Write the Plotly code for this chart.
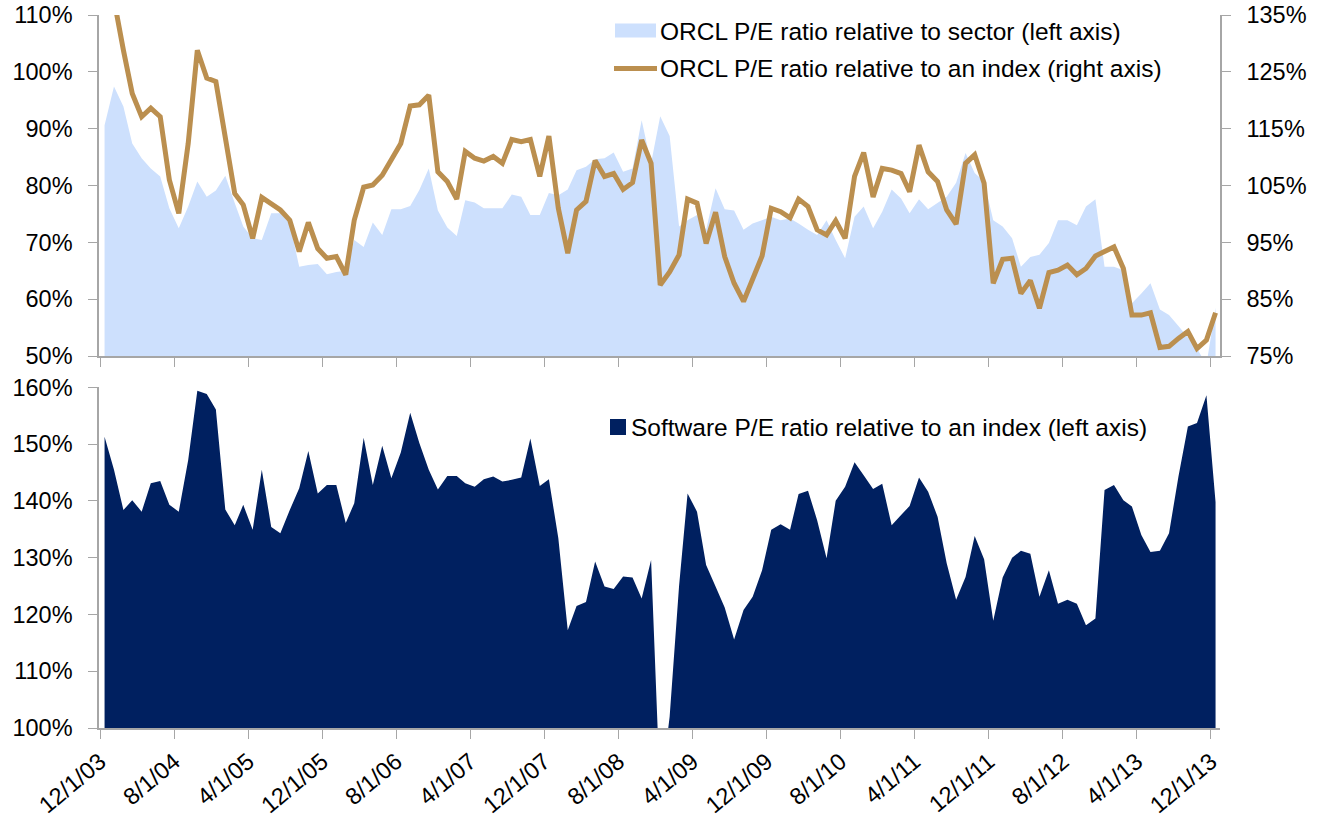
import pandas as pd
import plotly.graph_objects as go

# ---- data (monthly, Dec-2003 .. Dec-2013) ----
start_month = "2003-12-01"
n_months = 121

orcl_vs_sector = [
    90.6, 97.4, 93.9, 87.4, 84.8, 83.0, 81.6, 76.0, 72.5, 76.3,
    80.7, 78.0, 79.1, 81.7, 76.9, 72.8, 70.7, 70.4, 75.1, 75.1,
    73.3, 65.7, 66.0, 66.2, 64.4, 64.8, 65.0, 70.4, 69.2, 73.5,
    71.3, 75.8, 75.8, 76.4, 79.2, 83.0, 75.6, 72.6, 71.1, 77.4,
    77.0, 76.0, 76.0, 76.0, 78.4, 78.0, 74.8, 74.8, 78.7, 78.3,
    79.3, 82.7, 83.3, 84.6, 84.8, 85.8, 82.4, 83.0, 91.5, 83.9,
    92.2, 88.7, 72.8, 73.9, 74.8, 72.2, 79.5, 75.8, 75.6, 72.2,
    73.3, 73.9, 74.5, 73.9, 74.2, 73.3, 72.2, 71.3, 73.9, 70.4,
    67.2, 74.5, 76.3, 72.5, 75.4, 79.3, 77.7, 75.1, 77.6, 75.8,
    77.0, 78.0, 80.5, 85.7, 82.2, 80.7, 73.9, 72.8, 70.7, 65.7,
    67.4, 67.8, 69.9, 73.9, 73.9, 73.0, 76.3, 77.6, 65.7, 65.7,
    65.1, 59.3, 61.0, 62.8, 58.2, 57.2, 55.3, 53.2, 51.3, 48.5,
    58.5,
]

orcl_vs_index = [
    142.0, 137.7, 128.8, 121.2, 117.1, 118.6, 117.1, 106.0, 100.1, 112.4,
    128.8, 123.9, 123.3, 113.6, 103.6, 101.6, 95.7, 102.9, 101.9, 100.7,
    98.9, 93.4, 98.5, 93.9, 92.2, 92.5, 89.3, 98.9, 104.7, 105.1,
    106.8, 109.5, 112.4, 119.0, 119.2, 120.9, 107.4, 105.7, 102.6, 111.0,
    109.8, 109.3, 110.1, 108.9, 113.1, 112.7, 113.1, 106.6, 113.7, 101.0,
    93.1, 100.7, 102.2, 109.4, 106.6, 107.1, 104.3, 105.5, 113.0, 108.9,
    87.5, 89.8, 92.8, 102.6, 101.9, 94.8, 100.3, 92.5, 87.8, 84.6,
    88.5, 92.6, 101.0, 100.4, 99.3, 102.6, 101.3, 97.2, 96.3, 98.8,
    95.7, 106.6, 110.8, 103.0, 108.0, 107.7, 107.1, 103.9, 112.1, 107.4,
    105.7, 100.7, 98.2, 108.9, 110.4, 105.4, 87.8, 92.0, 92.2, 86.0,
    88.3, 83.4, 89.7, 90.1, 91.0, 89.3, 90.4, 92.6, 93.4, 94.2,
    90.4, 82.2, 82.2, 82.6, 76.5, 76.7, 78.1, 79.3, 76.3, 77.8,
    82.6,
]

software_vs_index = [
    151.3, 145.5, 138.4, 140.1, 138.1, 143.1, 143.5, 139.3, 138.1, 147.2,
    159.4, 158.8, 156.1, 138.5, 135.7, 139.3, 134.9, 145.5, 135.4, 134.3,
    138.4, 142.2, 148.8, 141.3, 142.8, 142.8, 136.1, 139.6, 151.1, 142.8,
    149.7, 144.0, 148.5, 155.5, 150.2, 145.5, 142.0, 144.4, 144.4, 143.1,
    142.5, 143.8, 144.3, 143.4, 143.7, 144.1, 151.0, 142.6, 143.8, 133.4,
    117.2, 121.5, 122.2, 129.3, 124.9, 124.5, 126.7, 126.5, 122.8, 129.6,
    88.2, 102.0, 125.0, 141.3, 138.1, 128.7, 124.9, 121.2, 115.6, 120.8,
    123.1, 127.8, 134.9, 135.9, 134.9, 141.2, 141.8, 136.6, 129.9, 140.0,
    142.5, 146.8, 144.5, 142.1, 143.0, 135.7, 137.5, 139.1, 144.1, 141.6,
    137.2, 129.0, 122.6, 126.6, 133.8, 129.7, 118.9, 126.5, 130.0, 131.2,
    130.7, 123.1, 127.8, 121.9, 122.6, 121.9, 118.1, 119.3, 141.9, 142.8,
    140.1, 139.0, 134.0, 131.0, 131.2, 134.3, 144.3, 153.1, 153.7, 158.6,
    139.8,
]

series_names = [
    "ORCL P/E ratio relative to sector (left axis)",
    "ORCL P/E ratio relative to an index (right axis)",
    "Software P/E ratio relative to an index (left axis)",
]

# ---- styling ----
LIGHT_BLUE = "#cde0fd"
GOLD = "#bb8f4f"
NAVY = "#002060"
AXIS_GREY = "#a6a6a6"
FONT = "Liberation Sans, Arial, sans-serif"
FS = 24.5       # legend text
FS_TICK = 23.5  # axis tick labels

# the page's body margin is removed (post_script), so figure px == page px
W, H = 1329, 823
ML, MR, MT, MB = 99, 109, 15, 95
PW, PH = W - ML - MR, H - MT - MB


def px_x(x):
    return (x - ML) / PW


def px_y(y):
    return 1 - (y - MT) / PH


months = pd.date_range(start_month, periods=n_months, freq="MS")
x = months + pd.Timedelta(days=15)  # points sit in the middle of each month slot

fig = go.Figure()
fig.add_trace(go.Scatter(
    x=x, y=orcl_vs_sector, name=series_names[0], mode="lines",
    line=dict(width=0, color=LIGHT_BLUE), fill="tozeroy", fillcolor=LIGHT_BLUE,
    xaxis="x2", yaxis="y2", showlegend=False,
))
fig.add_trace(go.Scatter(
    x=x, y=orcl_vs_index, name=series_names[1], mode="lines",
    line=dict(width=5, color=GOLD), xaxis="x2", yaxis="y3", showlegend=False,
))
fig.add_trace(go.Scatter(
    x=x, y=software_vs_index, name=series_names[2], mode="lines",
    line=dict(width=0, color=NAVY), fill="tozeroy", fillcolor=NAVY,
    xaxis="x", yaxis="y", showlegend=False,
))

x_range = ["2003-11-27 17:00", "2013-12-30 15:00"]
top_bottom = px_y(356)
bot_top = px_y(387.3)

common_x = dict(
    type="date", range=x_range, tick0="2003-12-01", dtick="M8",
    ticks="outside", ticklen=9, tickcolor=AXIS_GREY, showline=True,
    linecolor=AXIS_GREY, linewidth=1.5, showgrid=False, zeroline=False,
    automargin=False, ticklabeloverflow="allow",
)
common_y = dict(
    ticks="outside", ticklen=9, tickcolor=AXIS_GREY, showline=True,
    linecolor=AXIS_GREY, linewidth=1.5, showgrid=False, zeroline=False,
    ticksuffix="%", dtick=10,
    tickfont=dict(family=FONT, size=FS_TICK, color="#000"),
    ticklabelstandoff=11, automargin=False, ticklabeloverflow="allow",
)

fig.update_layout(
    width=W, height=H,
    margin=dict(l=ML, r=MR, t=MT, b=MB, autoexpand=False),
    paper_bgcolor="white", plot_bgcolor="white",
    font=dict(family=FONT, size=FS, color="#000"),
    showlegend=False,
    xaxis=dict(**common_x, anchor="y", domain=[0, 1], tickangle=-40,
               tickformat="%-m/%-d/%y",
               tickfont=dict(family=FONT, size=FS_TICK, color="#000")),
    xaxis2=dict(**common_x, anchor="y2", domain=[0, 1], showticklabels=False,
                matches="x"),
    yaxis=dict(**common_y, anchor="x", domain=[0, bot_top], range=[100, 160],
               tick0=100),
    yaxis2=dict(**common_y, anchor="x2", domain=[top_bottom, 1], range=[50, 110],
                tick0=50),
    yaxis3=dict(**common_y, anchor="x2", overlaying="y2", side="right",
                range=[75, 135], tick0=75),
)

# ---- legends (swatch shapes + text annotations) ----
shapes = [
    dict(type="rect", xref="paper", yref="paper",
         x0=px_x(615), x1=px_x(656), y0=px_y(37.5), y1=px_y(23.5),
         fillcolor=LIGHT_BLUE, line=dict(width=0)),
    dict(type="line", xref="paper", yref="paper",
         x0=px_x(614), x1=px_x(657), y0=px_y(68.5), y1=px_y(68.5),
         line=dict(color=GOLD, width=5)),
    dict(type="rect", xref="paper", yref="paper",
         x0=px_x(610), x1=px_x(626), y0=px_y(435), y1=px_y(419),
         fillcolor=NAVY, line=dict(width=0)),
]
annotations = [
    dict(text=series_names[0], xref="paper", yref="paper", x=px_x(658), y=px_y(31),
         xanchor="left", yanchor="middle", showarrow=False,
         font=dict(family=FONT, size=FS, color="#000")),
    dict(text=series_names[1], xref="paper", yref="paper", x=px_x(658), y=px_y(69),
         xanchor="left", yanchor="middle", showarrow=False,
         font=dict(family=FONT, size=FS, color="#000")),
    dict(text=series_names[2], xref="paper", yref="paper", x=px_x(629), y=px_y(427),
         xanchor="left", yanchor="middle", showarrow=False,
         font=dict(family=FONT, size=FS, color="#000")),
]
fig.update_layout(shapes=shapes, annotations=annotations)

fig.write_html(
    "out.html",
    config={"displayModeBar": False},
    post_script="document.body.style.margin='0';document.body.style.overflow='hidden';",
)
